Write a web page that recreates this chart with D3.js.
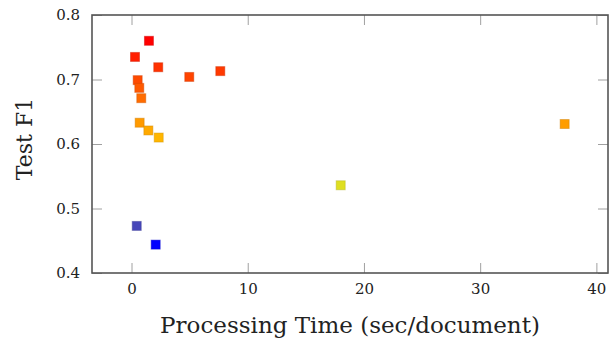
<!DOCTYPE html>
<html>
<head>
<meta charset="utf-8">
<script src="https://cdn.jsdelivr.net/npm/d3@7"></script>
<style>
  body { margin: 0; background: #fff; }
  text { font-family: "DejaVu Serif", "Liberation Serif", serif; fill: #222; }
</style>
</head>
<body>
<svg id="chart" width="611" height="346"></svg>
<script>
const width = 611;
const height = 346;
const margin = { top: 15, right: 3, bottom: 73, left: 92 };

// processing time (sec/document) and test F1
const times = [1.5, 0.3, 2.3, 4.97, 7.64, 0.53, 0.67, 0.84, 0.7, 1.45, 2.34, 0.45, 2.08, 37.27, 18.0];
const scores = [0.760, 0.735, 0.719, 0.704, 0.713, 0.699, 0.687, 0.671, 0.633, 0.621, 0.610, 0.473, 0.444, 0.631, 0.536];
const xTicks = [0, 10, 20, 30, 40];
const yTicks = [0.4, 0.5, 0.6, 0.7, 0.8];

const points = times.map((t, i) => ({ t, f: scores[i] }));

const svg = d3.select('#chart');
const x = d3.scaleLinear().domain([-3.4, 41]).range([margin.left, width - margin.right]);
const y = d3.scaleLinear().domain([0.4, 0.8]).range([height - margin.bottom, margin.top]);

// pgfplots "hot" colormap: blue -> yellow -> orange -> red
const color = d3.scaleLinear()
  .domain(d3.range(4).map(i => d3.min(scores) + i * (d3.max(scores) - d3.min(scores)) / 3))
  .range(['#0000ff', '#ffff00', '#ff8000', '#ff0000']);

const tickLen = 10;

const axBottom = svg.append('g').attr('transform', `translate(0,${y.range()[0]})`)
  .call(d3.axisBottom(x).tickValues(xTicks).tickSizeInner(-tickLen).tickSizeOuter(0).tickPadding(10.5));
const axTop = svg.append('g').attr('transform', `translate(0,${y.range()[1]})`)
  .call(d3.axisTop(x).tickValues(xTicks).tickSizeInner(-tickLen).tickSizeOuter(0).tickFormat(''));
const axLeft = svg.append('g').attr('transform', `translate(${x.range()[0]},0)`)
  .call(d3.axisLeft(y).tickValues(yTicks).tickSizeInner(-tickLen).tickSizeOuter(0).tickPadding(12).tickFormat(d3.format('.1f')));
const axRight = svg.append('g').attr('transform', `translate(${x.range()[1]},0)`)
  .call(d3.axisRight(y).tickValues(yTicks).tickSizeInner(-tickLen).tickSizeOuter(0).tickFormat(''));

[axBottom, axTop, axLeft, axRight].forEach(g => {
  g.attr('font-family', null).attr('font-size', null);
  g.select('.domain').remove();
  g.selectAll('line').attr('stroke', '#a0a0a0').attr('stroke-width', 1);
  g.selectAll('text').attr('font-size', 15).attr('fill', '#222');
});

svg.append('rect')
  .attr('x', x.range()[0]).attr('y', y.range()[1])
  .attr('width', x.range()[1] - x.range()[0]).attr('height', y.range()[0] - y.range()[1])
  .attr('fill', 'none').attr('stroke', '#555').attr('stroke-width', 1.6);

const s = 9;
svg.append('g').selectAll('rect').data(points).join('rect')
  .attr('x', d => x(d.t) - s / 2)
  .attr('y', d => y(d.f) - s / 2)
  .attr('width', s).attr('height', s)
  .attr('fill', d => color(d.f))
  .attr('stroke', d => d3.color(color(d.f)).darker(0.6))
  .attr('stroke-opacity', 0.45)
  .attr('stroke-width', 1);

svg.append('text')
  .attr('x', 350).attr('y', 333)
  .attr('text-anchor', 'middle').attr('font-size', 23)
  .text('Processing Time (sec/document)');

svg.append('text')
  .attr('transform', `translate(32,139) rotate(-90)`)
  .attr('text-anchor', 'middle').attr('font-size', 22)
  .text('Test F1');
</script>
</body>
</html>
